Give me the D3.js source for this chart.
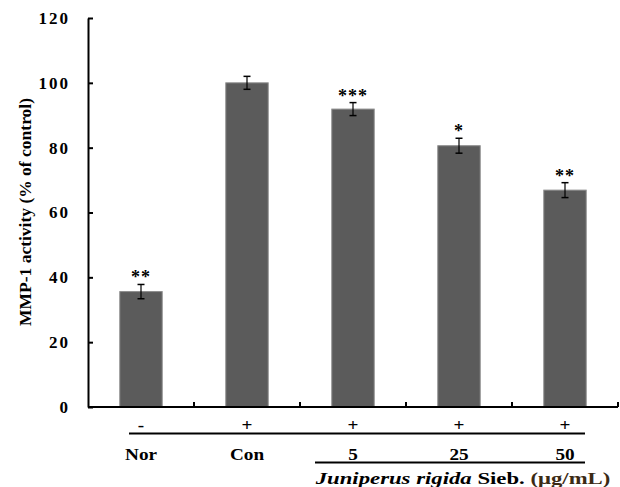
<!DOCTYPE html>
<html>
<head>
<meta charset="utf-8">
<script src="https://cdn.jsdelivr.net/npm/d3@7"></script>
<style>
  body { margin: 0; background: #fff; }
  text { font-family: "Liberation Serif", "Times New Roman", serif; font-weight: bold; }
</style>
</head>
<body>
<div id="chart"></div>
<script>
// Data
const categories = ["Nor", "Con", "5", "25", "50"];
const treatment = ["-", "+", "+", "+", "+"];
const values = [35.6, 100, 91.9, 80.6, 66.9];
const errors = [2.2, 2.0, 2.0, 2.3, 2.3];
const stars = ["**", "", "***", "*", "**"];
const yTicks = [0, 20, 40, 60, 80, 100, 120];

const width = 620, height = 487;
const plot = {left: 88, right: 618, top: 18, bottom: 407};

const svg = d3.select("#chart")
    .append("svg")
    .attr("width", width)
    .attr("height", height);

// Scales
const x = d3.scaleBand()
    .domain(categories)
    .range([plot.left, plot.right])
    .paddingInner(0.6)
    .paddingOuter(0.3);

const y = d3.scaleLinear()
    .domain([0, 120])
    .range([plot.bottom, plot.top]);

const cx = c => x(c) + x.bandwidth() / 2;

const data = categories.map((c, i) => ({
    cat: c, value: values[i], err: errors[i], star: stars[i], treat: treatment[i]
}));

// Y axis, ticks pointing inward
const yAxis = svg.append("g")
    .attr("transform", `translate(${plot.left},0)`)
    .call(d3.axisLeft(y).tickValues(yTicks).tickSizeInner(-5).tickSizeOuter(0).tickPadding(18));
yAxis.select(".domain").attr("stroke", "#000").attr("stroke-width", 2);
yAxis.selectAll(".tick line").attr("stroke", "#000").attr("stroke-width", 2);
yAxis.selectAll(".tick text")
    .style("font-size", "17px")
    .style("letter-spacing", "2px")
    .attr("fill", "#000");

// Y label
svg.append("text")
    .attr("transform", `translate(25,212) rotate(-90)`)
    .attr("text-anchor", "middle")
    .attr("dy", "0.35em")
    .style("font-size", "17.5px")
    .text("MMP-1 activity (% of control)");

// Bars
svg.selectAll(".bar")
    .data(data)
    .enter().append("rect")
    .attr("class", "bar")
    .attr("x", d => x(d.cat))
    .attr("y", d => y(d.value))
    .attr("width", x.bandwidth())
    .attr("height", d => y(0) - y(d.value))
    .attr("fill", "#5b5b5b")
    .attr("stroke", "#8c8c8c")
    .attr("stroke-width", 1);

// Error bars
const capW = 3.5;
const eb = svg.selectAll(".err")
    .data(data)
    .enter().append("g")
    .attr("class", "err")
    .attr("transform", d => `translate(${cx(d.cat)},0)`);
eb.append("line")
    .attr("y1", d => y(d.value - d.err))
    .attr("y2", d => y(d.value + d.err))
    .attr("stroke", "#000").attr("stroke-width", 1.2);
eb.append("line")
    .attr("x1", -capW).attr("x2", capW)
    .attr("y1", d => y(d.value + d.err)).attr("y2", d => y(d.value + d.err))
    .attr("stroke", "#000").attr("stroke-width", 1.5);
eb.append("line")
    .attr("x1", -capW).attr("x2", capW)
    .attr("y1", d => y(d.value - d.err)).attr("y2", d => y(d.value - d.err))
    .attr("stroke", "#000").attr("stroke-width", 1.5);

// Significance stars
svg.selectAll(".star")
    .data(data.filter(d => d.star))
    .enter().append("text")
    .attr("class", "star")
    .attr("x", d => cx(d.cat))
    .attr("y", d => y(d.value + d.err) - 1)
    .attr("text-anchor", "middle")
    .style("font-size", "18px")
    .style("letter-spacing", "1px")
    .text(d => d.star);

// X axis line with ticks at category boundaries
svg.append("line")
    .attr("x1", plot.left).attr("x2", plot.right)
    .attr("y1", plot.bottom).attr("y2", plot.bottom)
    .attr("stroke", "#000").attr("stroke-width", 2);
const step = x.step();
const boundaries = categories.map(c => x(c) + x.bandwidth() + step * x.paddingInner() / 2);
svg.selectAll(".xtick")
    .data(boundaries)
    .enter().append("line")
    .attr("class", "xtick")
    .attr("x1", d => d).attr("x2", d => d)
    .attr("y1", plot.bottom).attr("y2", plot.bottom - 5)
    .attr("stroke", "#000").attr("stroke-width", 2);

// Treatment row (- / +)
svg.selectAll(".treat")
    .data(data)
    .enter().append("text")
    .attr("class", "treat")
    .attr("transform", d => `translate(${cx(d.cat)},431) scale(1.2,1)`)
    .attr("text-anchor", "middle")
    .style("font-size", "16px")
    .text(d => d.treat);

svg.append("line")
    .attr("x1", cx("Nor") - 12).attr("x2", cx("50") + 20)
    .attr("y1", 433.5).attr("y2", 433.5)
    .attr("stroke", "#000").attr("stroke-width", 2);

// Category labels
svg.selectAll(".cat")
    .data(data)
    .enter().append("text")
    .attr("class", "cat")
    .attr("transform", d => `translate(${cx(d.cat)},460) scale(1.2,1)`)
    .attr("text-anchor", "middle")
    .style("font-size", "16px")
    .text(d => d.cat);

svg.append("line")
    .attr("x1", cx("5") - 38).attr("x2", cx("50") + 20)
    .attr("y1", 462.5).attr("y2", 462.5)
    .attr("stroke", "#000").attr("stroke-width", 2);

// Extract label
const ext = svg.append("text")
    .attr("transform", "translate(463,484) scale(1.3,1)")
    .attr("text-anchor", "middle")
    .style("font-size", "17.5px");
ext.append("tspan").style("font-style", "italic").text("Juniperus rigida");
ext.append("tspan").text(" Sieb. ");
ext.append("tspan").attr("fill", "#3b2a14").text("(μg/mL)");
</script>
</body>
</html>
